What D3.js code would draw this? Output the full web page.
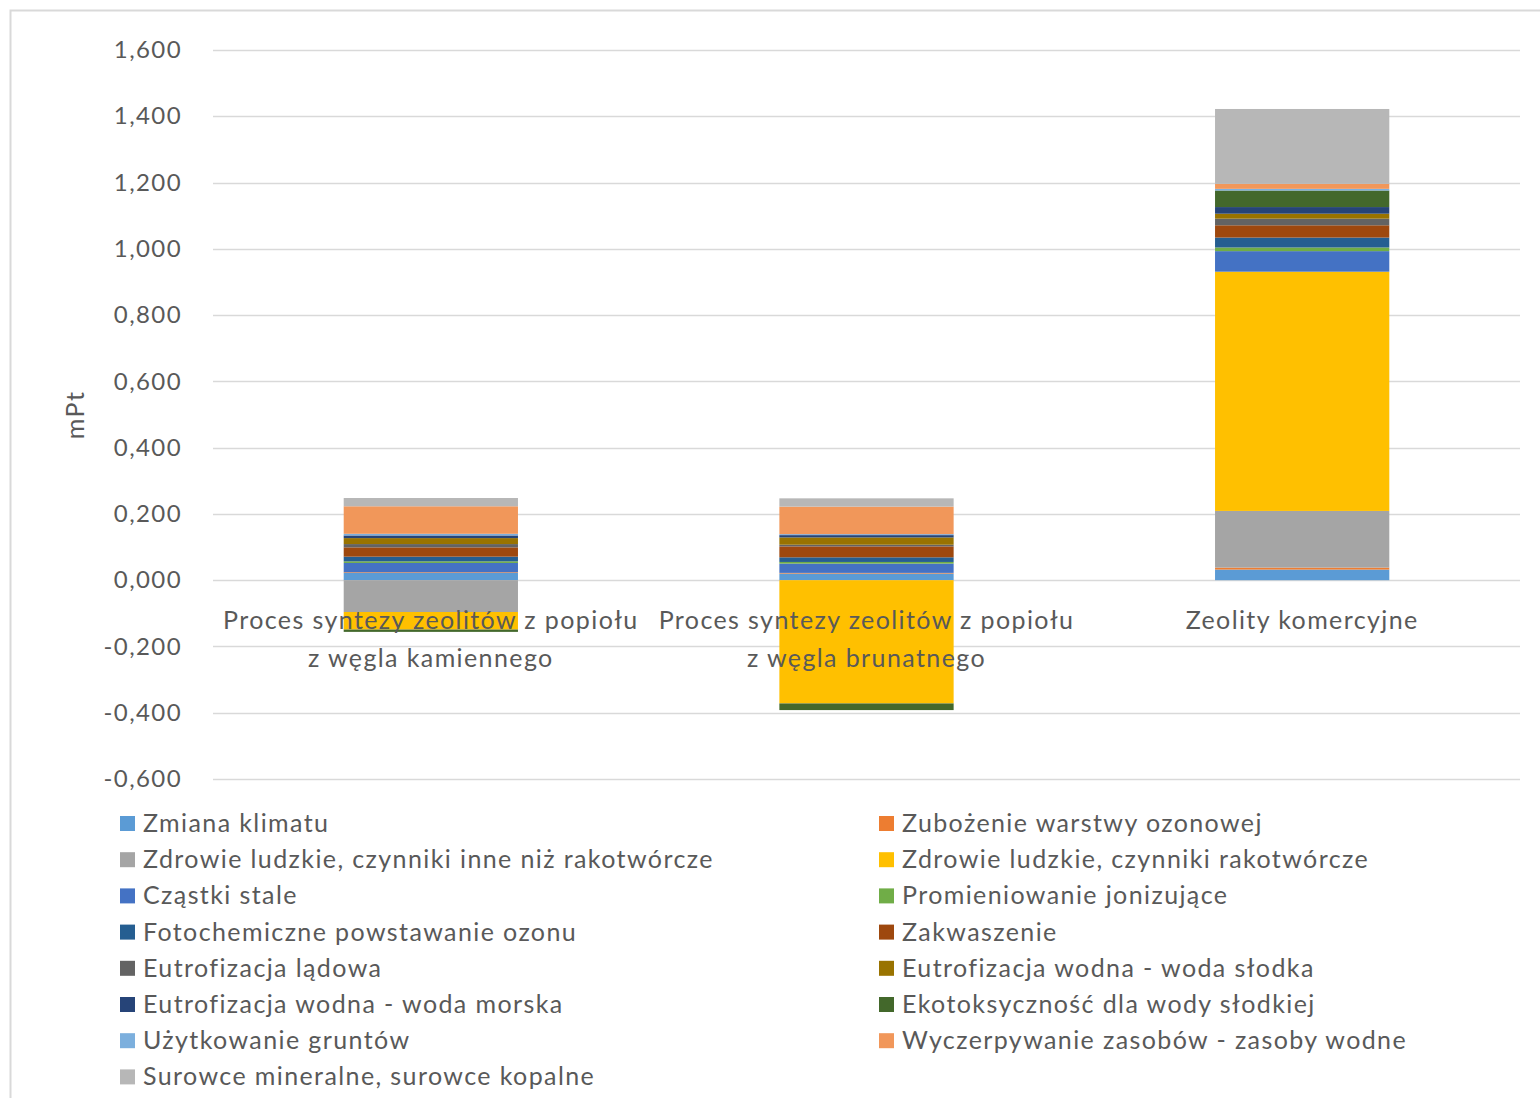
<html lang="pl">
<head>
  <meta http-equiv="Content-Type" content="text/html; charset=utf-8" />
  <script src="https://d3js.org/d3.v7.min.js"></script>
  <style>
    body { margin: 0; background: #fff; }
    text { font-family: Lato, "Open Sans", sans-serif; fill: #595959; letter-spacing: 1.4px; }
  </style>
</head>
<body>
  <div id="chart"></div>
  <script>
    'use strict';
    // categories (x axis), each one split in display lines
    const categories = ["kamienny", "brunatny", "komercyjne"];
    const categoryLines = [
      ["Proces syntezy zeolitów z popiołu", "z węgla kamiennego"],
      ["Proces syntezy zeolitów z popiołu", "z węgla brunatnego"],
      ["Zeolity komercyjne"]
    ];

    const seriesNames = [
      "Zmiana klimatu",
      "Zubożenie warstwy ozonowej",
      "Zdrowie ludzkie, czynniki inne niż rakotwórcze",
      "Zdrowie ludzkie, czynniki rakotwórcze",
      "Cząstki stale",
      "Promieniowanie jonizujące",
      "Fotochemiczne powstawanie ozonu",
      "Zakwaszenie",
      "Eutrofizacja lądowa",
      "Eutrofizacja wodna - woda słodka",
      "Eutrofizacja wodna - woda morska",
      "Ekotoksyczność dla wody słodkiej",
      "Użytkowanie gruntów",
      "Wyczerpywanie zasobów - zasoby wodne",
      "Surowce mineralne, surowce kopalne"
    ];
    const seriesColors = [
      "#5B9BD5", "#ED7D31", "#A5A5A5", "#FFC000", "#4472C4",
      "#70AD47", "#255E91", "#9E480E", "#636363", "#997300",
      "#264478", "#43682B", "#7CAFDD", "#F1975A", "#B7B7B7"
    ];

    // values in mPt, one per series, in series order
    const kamiennyValues   = [0.022, 0.002, -0.096, -0.053, 0.028, 0.005, 0.014, 0.028, 0.010, 0.018, 0.008, -0.007, 0.005, 0.083, 0.025];
    const brunatnyValues   = [0.020, 0.002, 0.000, -0.372, 0.028, 0.005, 0.014, 0.033, 0.005, 0.022, 0.007, -0.020, 0.003, 0.083, 0.025];
    const komercyjneValues = [0.032, 0.006, 0.171, 0.722, 0.062, 0.011, 0.030, 0.037, 0.020, 0.015, 0.020, 0.050, 0.005, 0.015, 0.226];
    const valueRows = [kamiennyValues, brunatnyValues, komercyjneValues];

    const yTicks = d3.ticks(-0.6, 1.6, 11);

    const svgWidth = 1540, svgHeight = 1098;
    const plot = {left: 213, right: 1520, top: 50, bottom: 779};

    const table = categories.map((c, i) => {
      const row = {category: c};
      seriesNames.forEach((s, j) => row[s] = valueRows[i][j]);
      return row;
    });

    const svg = d3.select("#chart").append("svg")
      .attr("width", svgWidth).attr("height", svgHeight);

    // chart frame
    svg.append("rect").attr("x", 10.5).attr("y", 10.5)
      .attr("width", svgWidth + 20).attr("height", svgHeight + 20)
      .attr("fill", "none").attr("stroke", "#d9d9d9").attr("stroke-width", 2);

    const x = d3.scaleBand().domain(categories).range([plot.left, plot.right])
      .paddingInner(0.6).paddingOuter(0.3);
    const y = d3.scaleLinear().domain([-0.6, 1.6]).range([plot.bottom, plot.top]);

    const locale = d3.formatLocale({decimal: ",", thousands: " ", grouping: [3], currency: ["", ""], minus: "-"});
    const fmt = locale.format(".3f");

    // gridlines
    svg.append("g").selectAll("line").data(yTicks).join("line")
      .attr("x1", plot.left).attr("x2", plot.right)
      .attr("y1", d => Math.round(y(d)) + 0.5).attr("y2", d => Math.round(y(d)) + 0.5)
      .attr("stroke", "#d9d9d9").attr("stroke-width", 1.3);

    // y tick labels
    const yAxis = svg.append("g").attr("transform", `translate(${plot.left - 28},0)`)
      .call(d3.axisLeft(y).tickValues(yTicks).tickFormat(fmt).tickSize(0));
    yAxis.select(".domain").remove();
    yAxis.selectAll("text").attr("font-size", 24).attr("fill", "#595959")
      .style("font-family", "Lato, sans-serif");

    svg.append("text")
      .attr("transform", `translate(84,415) rotate(-90)`)
      .attr("text-anchor", "middle").attr("font-size", 25).text("mPt");

    // stacked bars
    const stack = d3.stack().keys(seriesNames).offset(d3.stackOffsetDiverging);
    const layers = stack(table);
    svg.append("g").selectAll("g").data(layers).join("g")
      .attr("fill", (d, i) => seriesColors[i])
      .selectAll("rect").data(d => d).join("rect")
      .attr("x", d => x(d.data.category))
      .attr("width", x.bandwidth())
      .attr("y", d => y(Math.max(d[0], d[1])))
      .attr("height", d => Math.abs(y(d[0]) - y(d[1])));

    // category labels
    const catG = svg.append("g").selectAll("text").data(categories).join("text")
      .attr("text-anchor", "middle").attr("font-size", 25);
    catG.selectAll("tspan").data((d, i) => categoryLines[i].map(t => ({t, c: d}))).join("tspan")
      .attr("x", d => x(d.c) + x.bandwidth() / 2)
      .attr("y", (d, i) => 629 + i * 38)
      .text(d => d.t);

    // legend, two columns, row-major
    const legend = svg.append("g").selectAll("g").data(seriesNames).join("g")
      .attr("transform", (d, i) => `translate(${i % 2 ? 879 : 120},${823 + Math.floor(i / 2) * 36.2})`);
    legend.append("rect").attr("x", 0).attr("y", -7).attr("width", 15).attr("height", 15)
      .attr("fill", (d, i) => seriesColors[i]);
    legend.append("text").attr("x", 23).attr("y", 9).attr("font-size", 25).text(d => d);
  </script>
</body>
</html>
